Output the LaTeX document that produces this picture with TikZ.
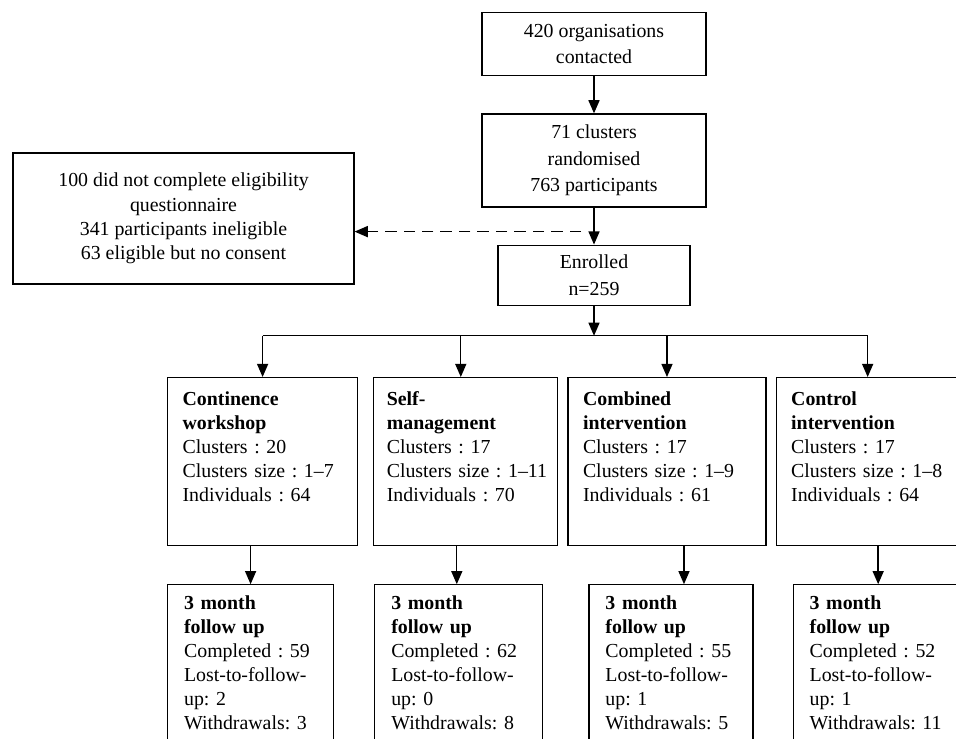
\documentclass[tikz,border=0pt]{standalone}
\usepackage{fontspec}
\setmainfont{Liberation Serif}
\usetikzlibrary{arrows.meta, positioning, calc}
\frenchspacing

\begin{document}
\begin{tikzpicture}[
    x=0.02cm, y=0.02cm,
    font=\fontsize{11.3}{13.6}\selectfont,
    stage/.style={rectangle, draw=black, line width=0.7pt, align=center, inner sep=2pt, font=\fontsize{11.3}{15}\selectfont},
    arm/.style={rectangle, draw=black, line width=0.7pt, align=left, inner xsep=0.3cm, inner ysep=0pt, text height=0.56cm, text depth=2.8cm},
    fup/.style={rectangle, draw=black, line width=0.7pt, align=left, inner xsep=0.33cm, inner ysep=0pt, text height=0.5cm, text depth=3.5cm},
    arrow/.style={-{Triangle[length=7.5pt, width=6.3pt]}, line width=0.8pt},
    dasharrow/.style={arrow, dash pattern=on 6.5pt off 4pt}
]
\clip (0,0) rectangle (956,-738);

\node[stage, minimum width=4.48cm, minimum height=1.25cm] (contact) at (594,-44) {420 organisations\\contacted};
\node[stage, minimum width=4.48cm, minimum height=1.86cm, below=0.75cm of contact] (random) {71 clusters\\randomised\\763 participants};
\node[stage, minimum width=3.84cm, minimum height=1.2cm, below=0.74cm of random] (enrol) {Enrolled\\n=259};
\node[stage, minimum width=6.82cm, minimum height=2.62cm, font=\fontsize{11.3}{13.8}\selectfont] (excl) at (183.5,-218.5) {100 did not complete eligibility\\questionnaire\\341 participants ineligible\\63 eligible but no consent};
\coordinate[below=0.6cm of enrol] (split);

% intervention arms
\node[arm, text width=3.2cm, anchor=north west] (cw) at (167,-377) {\textbf{Continence}\\\textbf{workshop}\\Clusters : 20\\\mbox{Clusters size : 1--7}\\Individuals : 64};
\node[arm, text width=3.16cm, inner xsep=0.26cm, right=0.3cm of cw.north east, anchor=north west] (sm) {\textbf{Self-}\\\textbf{management}\\Clusters : 17\\\mbox{Clusters size : 1--11}\\Individuals : 70};
\node[arm, text width=3.36cm, right=0.18cm of sm.north east, anchor=north west] (ci) {\textbf{Combined}\\\textbf{intervention}\\Clusters : 17\\\mbox{Clusters size : 1--9}\\Individuals : 61};
\node[arm, text width=3.06cm, right=0.18cm of ci.north east, anchor=north west] (ct) {\textbf{Control}\\\textbf{intervention}\\Clusters : 17\\\mbox{Clusters size : 1--8}\\Individuals : 64};

% follow up
\node[fup, text width=2.66cm, below=0.76cm of cw.south west, anchor=north west] (fw) {\textbf{3 month}\\\textbf{follow up}\\Completed : 59\\Lost-to-follow-\\up: 2\\Withdrawals: 3};
\node[fup, text width=2.7cm, below right=0.76cm and 0.02cm of sm.south west, anchor=north west] (fs) {\textbf{3 month}\\\textbf{follow up}\\Completed : 62\\Lost-to-follow-\\up: 0\\Withdrawals: 8};
\node[fup, text width=2.62cm, below right=0.76cm and 0.42cm of ci.south west, anchor=north west] (fi) {\textbf{3 month}\\\textbf{follow up}\\Completed : 55\\Lost-to-follow-\\up: 1\\Withdrawals: 5};
\node[fup, text width=2.74cm, below right=0.76cm and 0.34cm of ct.south west, anchor=north west] (fc) {\textbf{3 month}\\\textbf{follow up}\\Completed : 52\\Lost-to-follow-\\up: 1\\Withdrawals: 11};

\draw[arrow] (contact) -- (random);
\draw[arrow] (random) -- (enrol);
\coordinate (drop) at ($(random.south)!0.65!(enrol.north)$);
\draw[dasharrow] ([xshift=-0.26cm]drop) -- (drop -| excl.east);

\draw[arrow] (enrol) -- (split);
\draw[line width=0.8pt] (split -| cw.north) -- (split -| ct.north);
\draw[arrow] (split -| cw.north) -- (cw.north);
\draw[arrow] ([xshift=-0.1cm]sm.north |- split) -- ([xshift=-0.1cm]sm.north);
\draw[arrow] (split -| ci.north) -- (ci.north);
\draw[arrow] (split -| ct.north) -- (ct.north);

\draw[arrow] ([xshift=-0.24cm]cw.south) -- ([xshift=-0.24cm]cw.south |- fw.north);
\draw[arrow] ([xshift=-0.18cm]sm.south) -- ([xshift=-0.18cm]sm.south |- fs.north);
\draw[arrow] ([xshift=0.34cm]ci.south) -- ([xshift=0.34cm]ci.south |- fi.north);
\draw[arrow] ([xshift=0.21cm]ct.south) -- ([xshift=0.21cm]ct.south |- fc.north);

\end{tikzpicture}
\end{document}
